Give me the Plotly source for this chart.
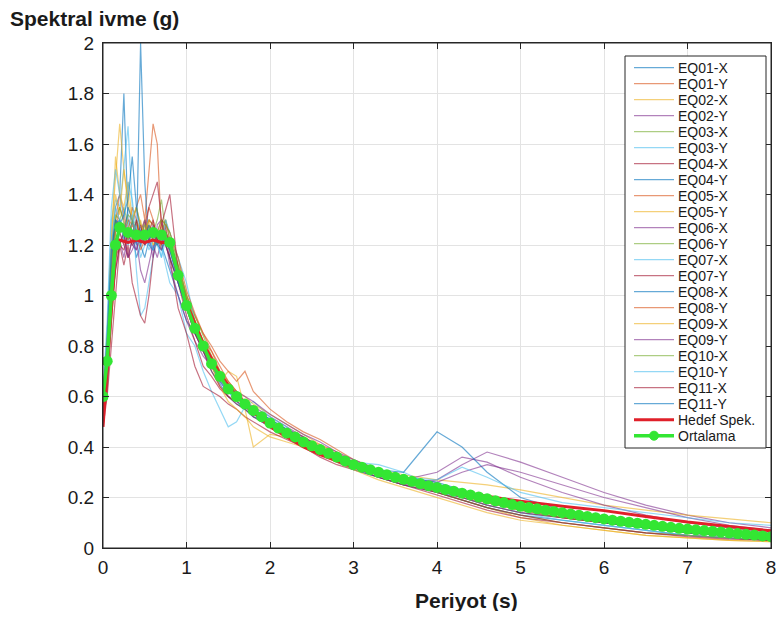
import plotly.graph_objects as go

# ---- data ----
periods = [0, 0.05, 0.1, 0.15, 0.2, 0.25, 0.3, 0.35, 0.4, 0.45, 0.5, 0.55, 0.6, 0.65, 0.7, 0.75, 0.8,
           0.9, 1.0, 1.1, 1.2, 1.3, 1.4, 1.5, 1.6, 1.7, 1.8, 2.0, 2.2, 2.4, 2.6, 2.8, 3.0, 3.3, 3.6,
           4.0, 4.3, 4.6, 5.0, 5.5, 6.0, 6.5, 7.0, 7.5, 8.0]

eq01_x = [0.58, 0.85, 1.20, 1.35, 1.40, 1.80, 1.30, 1.25, 1.15, 1.20, 1.30, 1.22, 1.18, 1.25, 1.20, 1.15, 1.10, 1.00, 0.90, 0.85, 0.80, 0.72, 0.66, 0.62, 0.58, 0.55, 0.52, 0.50, 0.46, 0.42, 0.38, 0.35, 0.33, 0.30, 0.27, 0.22, 0.20, 0.17, 0.14, 0.12, 0.10, 0.08, 0.06, 0.05, 0.04]
eq01_y = [0.60, 0.80, 1.10, 1.30, 1.25, 1.20, 1.30, 1.28, 1.35, 1.40, 1.30, 1.50, 1.68, 1.60, 1.25, 1.30, 1.22, 1.10, 1.00, 0.92, 0.85, 0.78, 0.70, 0.66, 0.62, 0.58, 0.55, 0.50, 0.47, 0.44, 0.40, 0.36, 0.33, 0.30, 0.28, 0.24, 0.21, 0.18, 0.15, 0.12, 0.10, 0.08, 0.06, 0.05, 0.04]
eq02_x = [0.55, 0.80, 1.25, 1.45, 1.68, 1.50, 1.35, 1.30, 1.28, 1.25, 1.30, 1.25, 1.20, 1.22, 1.28, 1.25, 1.20, 1.12, 1.00, 0.90, 0.80, 0.72, 0.66, 0.70, 0.68, 0.55, 0.40, 0.45, 0.44, 0.40, 0.37, 0.35, 0.33, 0.29, 0.26, 0.22, 0.19, 0.16, 0.12, 0.09, 0.07, 0.05, 0.04, 0.03, 0.025]
eq02_y = [0.55, 0.70, 0.95, 1.10, 1.20, 1.25, 1.15, 1.18, 1.22, 1.10, 1.05, 1.12, 1.20, 1.15, 1.22, 1.20, 1.15, 1.05, 0.95, 0.85, 0.78, 0.72, 0.66, 0.62, 0.60, 0.58, 0.56, 0.52, 0.48, 0.44, 0.40, 0.36, 0.32, 0.28, 0.25, 0.27, 0.33, 0.38, 0.34, 0.28, 0.22, 0.17, 0.13, 0.10, 0.08]
eq03_x = [0.62, 0.78, 1.05, 1.25, 1.30, 1.35, 1.28, 1.22, 1.30, 1.25, 1.20, 1.28, 1.25, 1.30, 1.38, 1.25, 1.22, 1.15, 0.98, 0.88, 0.80, 0.75, 0.68, 0.63, 0.60, 0.56, 0.53, 0.49, 0.45, 0.42, 0.39, 0.35, 0.32, 0.29, 0.26, 0.23, 0.21, 0.19, 0.16, 0.13, 0.11, 0.09, 0.07, 0.06, 0.05]
eq03_y = [0.60, 0.85, 1.30, 1.38, 1.35, 1.50, 1.67, 1.35, 1.10, 0.92, 0.95, 1.05, 1.15, 1.22, 1.20, 1.12, 1.05, 1.00, 0.85, 0.80, 0.70, 0.62, 0.55, 0.48, 0.50, 0.56, 0.58, 0.52, 0.48, 0.42, 0.38, 0.36, 0.33, 0.30, 0.27, 0.24, 0.22, 0.19, 0.16, 0.13, 0.11, 0.09, 0.07, 0.06, 0.05]
eq04_x = [0.48, 0.60, 0.80, 1.00, 1.20, 1.12, 1.20, 1.05, 0.98, 0.92, 0.89, 1.00, 1.15, 1.25, 1.20, 1.28, 1.15, 0.95, 0.85, 0.72, 0.64, 0.62, 0.60, 0.57, 0.55, 0.52, 0.50, 0.46, 0.43, 0.40, 0.36, 0.33, 0.31, 0.28, 0.25, 0.21, 0.18, 0.15, 0.12, 0.10, 0.08, 0.06, 0.05, 0.04, 0.03]
eq04_y = [0.58, 0.80, 1.15, 1.30, 1.25, 1.28, 1.20, 1.30, 1.20, 2.00, 1.45, 1.20, 1.18, 1.22, 1.25, 1.20, 1.15, 1.05, 0.95, 0.85, 0.78, 0.70, 0.65, 0.60, 0.57, 0.55, 0.52, 0.48, 0.45, 0.41, 0.38, 0.34, 0.31, 0.28, 0.25, 0.22, 0.19, 0.16, 0.13, 0.11, 0.09, 0.07, 0.05, 0.04, 0.03]
eq05_x = [0.60, 0.82, 1.15, 1.30, 1.40, 1.32, 1.25, 1.35, 1.30, 1.22, 1.28, 1.35, 1.30, 1.22, 1.20, 1.25, 1.22, 1.10, 0.98, 0.90, 0.82, 0.78, 0.72, 0.66, 0.62, 0.58, 0.55, 0.50, 0.46, 0.43, 0.41, 0.38, 0.34, 0.30, 0.27, 0.23, 0.20, 0.18, 0.15, 0.13, 0.10, 0.08, 0.07, 0.06, 0.05]
eq05_y = [0.62, 0.85, 1.20, 1.55, 1.40, 1.35, 1.45, 1.30, 1.25, 1.30, 1.22, 1.28, 1.20, 1.25, 1.18, 1.22, 1.18, 1.08, 0.95, 0.88, 0.82, 0.76, 0.70, 0.65, 0.62, 0.60, 0.57, 0.53, 0.49, 0.45, 0.41, 0.37, 0.34, 0.31, 0.29, 0.27, 0.26, 0.25, 0.23, 0.20, 0.17, 0.15, 0.13, 0.115, 0.10]
eq06_x = [0.56, 0.72, 1.00, 1.18, 1.22, 1.15, 1.25, 1.20, 1.18, 1.25, 1.30, 1.22, 1.15, 1.28, 1.30, 1.22, 1.12, 1.00, 0.90, 0.82, 0.76, 0.72, 0.66, 0.62, 0.60, 0.58, 0.55, 0.50, 0.47, 0.44, 0.40, 0.37, 0.34, 0.30, 0.27, 0.30, 0.36, 0.34, 0.28, 0.22, 0.17, 0.13, 0.10, 0.08, 0.06]
eq06_y = [0.60, 0.78, 1.10, 1.32, 1.30, 1.26, 1.32, 1.30, 1.35, 1.28, 1.25, 1.30, 1.28, 1.20, 1.25, 1.30, 1.22, 1.12, 1.00, 0.92, 0.84, 0.76, 0.70, 0.65, 0.61, 0.57, 0.54, 0.50, 0.46, 0.43, 0.39, 0.36, 0.33, 0.30, 0.27, 0.24, 0.21, 0.18, 0.15, 0.12, 0.10, 0.08, 0.06, 0.05, 0.04]
eq07_x = [0.62, 0.90, 1.35, 1.50, 1.40, 1.30, 1.45, 1.38, 1.25, 1.15, 1.20, 1.25, 1.18, 1.22, 1.15, 1.30, 1.25, 1.15, 1.05, 0.90, 0.80, 0.72, 0.66, 0.62, 0.58, 0.55, 0.52, 0.48, 0.45, 0.42, 0.39, 0.36, 0.34, 0.33, 0.30, 0.24, 0.20, 0.17, 0.14, 0.11, 0.09, 0.07, 0.05, 0.04, 0.03]
eq07_y = [0.50, 0.62, 0.90, 1.10, 1.20, 1.25, 1.15, 1.22, 1.30, 1.20, 1.25, 1.35, 1.40, 1.45, 1.30, 1.20, 1.15, 1.05, 0.92, 0.82, 0.72, 0.68, 0.63, 0.60, 0.58, 0.56, 0.53, 0.49, 0.45, 0.42, 0.38, 0.35, 0.32, 0.29, 0.26, 0.23, 0.20, 0.17, 0.14, 0.12, 0.10, 0.08, 0.06, 0.05, 0.04]
eq08_x = [0.58, 0.80, 1.15, 1.28, 1.30, 1.22, 1.35, 1.30, 1.25, 1.20, 1.15, 1.22, 1.25, 1.20, 1.18, 1.22, 1.18, 1.05, 0.95, 0.88, 0.80, 0.74, 0.68, 0.64, 0.60, 0.58, 0.55, 0.51, 0.47, 0.43, 0.40, 0.37, 0.34, 0.31, 0.30, 0.46, 0.40, 0.30, 0.20, 0.15, 0.12, 0.09, 0.07, 0.06, 0.05]
eq08_y = [0.58, 0.75, 1.05, 1.25, 1.35, 1.30, 1.22, 1.28, 1.25, 1.18, 1.22, 1.30, 1.28, 1.25, 1.30, 1.28, 1.25, 1.15, 1.02, 0.93, 0.85, 0.80, 0.74, 0.70, 0.66, 0.70, 0.62, 0.55, 0.50, 0.46, 0.43, 0.39, 0.35, 0.31, 0.28, 0.25, 0.22, 0.19, 0.16, 0.13, 0.11, 0.09, 0.07, 0.06, 0.05]
eq09_x = [0.60, 0.80, 1.20, 1.40, 1.32, 1.50, 1.38, 1.30, 1.35, 1.28, 1.25, 1.30, 1.22, 1.20, 1.25, 1.22, 1.20, 1.10, 0.98, 0.90, 0.80, 0.72, 0.64, 0.58, 0.55, 0.52, 0.48, 0.44, 0.42, 0.40, 0.37, 0.34, 0.31, 0.27, 0.24, 0.20, 0.17, 0.14, 0.11, 0.09, 0.07, 0.05, 0.04, 0.03, 0.025]
eq09_y = [0.55, 0.72, 1.00, 1.18, 1.25, 1.20, 1.15, 1.22, 1.18, 1.25, 1.20, 1.22, 1.28, 1.22, 1.18, 1.25, 1.20, 1.08, 0.96, 0.86, 0.78, 0.72, 0.68, 0.64, 0.62, 0.60, 0.58, 0.53, 0.49, 0.45, 0.42, 0.38, 0.35, 0.31, 0.28, 0.26, 0.30, 0.33, 0.30, 0.25, 0.20, 0.16, 0.12, 0.09, 0.07]
eq10_x = [0.60, 0.78, 1.10, 1.30, 1.35, 1.28, 1.22, 1.30, 1.25, 1.22, 1.28, 1.25, 1.22, 1.25, 1.30, 1.28, 1.25, 1.12, 1.00, 0.90, 0.82, 0.74, 0.68, 0.64, 0.60, 0.57, 0.54, 0.50, 0.46, 0.42, 0.38, 0.35, 0.32, 0.29, 0.26, 0.22, 0.19, 0.16, 0.13, 0.10, 0.08, 0.06, 0.05, 0.04, 0.03]
eq10_y = [0.60, 0.82, 1.20, 1.35, 1.30, 1.25, 1.28, 1.32, 1.22, 1.20, 1.25, 1.18, 1.22, 1.20, 1.15, 1.22, 1.20, 1.08, 0.96, 0.88, 0.80, 0.74, 0.68, 0.63, 0.60, 0.57, 0.54, 0.50, 0.46, 0.43, 0.40, 0.37, 0.34, 0.31, 0.28, 0.27, 0.32, 0.28, 0.22, 0.18, 0.16, 0.14, 0.12, 0.10, 0.09]
eq11_x = [0.50, 0.65, 0.95, 1.15, 1.20, 1.18, 1.25, 1.20, 1.22, 1.28, 1.20, 1.25, 1.30, 1.22, 1.28, 1.35, 1.40, 1.10, 0.95, 0.85, 0.78, 0.70, 0.64, 0.60, 0.57, 0.55, 0.52, 0.48, 0.44, 0.41, 0.38, 0.35, 0.32, 0.28, 0.25, 0.22, 0.19, 0.16, 0.13, 0.10, 0.08, 0.06, 0.045, 0.035, 0.03]
eq11_y = [0.58, 0.82, 1.18, 1.30, 1.28, 1.32, 1.38, 1.55, 1.35, 1.25, 1.22, 1.28, 1.22, 1.20, 1.25, 1.22, 1.18, 1.06, 0.95, 0.87, 0.80, 0.74, 0.68, 0.64, 0.61, 0.58, 0.55, 0.51, 0.47, 0.43, 0.40, 0.37, 0.34, 0.31, 0.28, 0.26, 0.23, 0.20, 0.16, 0.13, 0.10, 0.08, 0.06, 0.05, 0.04]

record_names = ["EQ01-X", "EQ01-Y", "EQ02-X", "EQ02-Y", "EQ03-X", "EQ03-Y", "EQ04-X", "EQ04-Y",
                "EQ05-X", "EQ05-Y", "EQ06-X", "EQ06-Y", "EQ07-X", "EQ07-Y", "EQ08-X", "EQ08-Y",
                "EQ09-X", "EQ09-Y", "EQ10-X", "EQ10-Y", "EQ11-X", "EQ11-Y"]
record_values = [eq01_x, eq01_y, eq02_x, eq02_y, eq03_x, eq03_y, eq04_x, eq04_y, eq05_x, eq05_y,
                 eq06_x, eq06_y, eq07_x, eq07_y, eq08_x, eq08_y, eq09_x, eq09_y, eq10_x, eq10_y,
                 eq11_x, eq11_y]

target_periods = [0, 0.05, 0.1, 0.16, 0.2, 0.3, 0.4, 0.5, 0.6, 0.7, 0.8, 0.9, 1.0, 1.2, 1.4, 1.6, 1.8,
                  2.0, 2.2, 2.4, 2.6, 2.8, 3.0, 3.5, 4.0, 4.5, 5.0, 5.5, 6.0, 6.5, 7.0, 7.5, 8.0]
target_values = [0.48, 0.72, 0.95, 1.22, 1.22, 1.21, 1.22, 1.21, 1.22, 1.21, 1.21, 1.08, 0.97, 0.81,
                 0.69, 0.60, 0.54, 0.48, 0.44, 0.40, 0.37, 0.345, 0.32, 0.28, 0.24, 0.21, 0.185,
                 0.165, 0.148, 0.125, 0.103, 0.085, 0.068]

mean_periods = [0, 0.05, 0.1, 0.15, 0.2, 0.3, 0.4, 0.5, 0.6, 0.7, 0.8, 0.9, 1.0, 1.1, 1.2, 1.3, 1.4,
                1.5, 1.6, 1.7, 1.8, 1.9, 2.0, 2.1, 2.2, 2.3, 2.4, 2.5, 2.6, 2.7, 2.8, 2.9, 3.0, 3.1,
                3.2, 3.3, 3.4, 3.5, 3.6, 3.7, 3.8, 3.9, 4.0, 4.1, 4.2, 4.3, 4.4, 4.5, 4.6, 4.7, 4.8,
                4.9, 5.0, 5.1, 5.2, 5.3, 5.4, 5.5, 5.6, 5.7, 5.8, 5.9, 6.0, 6.1, 6.2, 6.3, 6.4, 6.5,
                6.6, 6.7, 6.8, 6.9, 7.0, 7.1, 7.2, 7.3, 7.4, 7.5, 7.6, 7.7, 7.8, 7.9, 8.0]
mean_values = [0.60, 0.74, 1.00, 1.20, 1.27, 1.25, 1.24, 1.24, 1.25, 1.24, 1.21, 1.08, 0.96, 0.87,
               0.80, 0.73, 0.68, 0.63, 0.60, 0.57, 0.545, 0.52, 0.495, 0.475, 0.455, 0.44, 0.42,
               0.405, 0.39, 0.375, 0.36, 0.345, 0.33, 0.32, 0.31, 0.30, 0.29, 0.28, 0.272, 0.264,
               0.255, 0.247, 0.24, 0.232, 0.225, 0.217, 0.21, 0.202, 0.195, 0.187, 0.18, 0.172,
               0.165, 0.16, 0.155, 0.15, 0.145, 0.14, 0.135, 0.13, 0.125, 0.12, 0.115, 0.11, 0.106,
               0.102, 0.098, 0.094, 0.09, 0.086, 0.082, 0.078, 0.075, 0.072, 0.069, 0.066, 0.063,
               0.06, 0.057, 0.054, 0.051, 0.048, 0.045]

x_ticks = [0, 1, 2, 3, 4, 5, 6, 7, 8]
y_ticks = [0, 0.2, 0.4, 0.6, 0.8, 1, 1.2, 1.4, 1.6, 1.8, 2]

# ---- styling ----
palette = ["rgba(0,114,189,0.6)", "rgba(217,83,25,0.6)", "rgba(237,177,32,0.6)",
           "rgba(126,47,142,0.6)", "rgba(119,172,48,0.6)", "rgba(77,190,238,0.6)",
           "rgba(162,20,47,0.6)"]
RED = "#e0202a"
GREEN = "#33e633"
FONT = "Liberation Sans, Arial, sans-serif"
INK = "#1a1a1a"
FRAME = "#262626"

# the plotly div sits 8px in from the page corner (default body margin)
OFF = 8
FIG_W, FIG_H = 768, 603
# plot-area box in page pixels
PL, PR, PT, PB = 103, 771, 43, 548


def pxx(x):
    return (x - PL) / (PR - PL)


def pxy(y):
    return (PB - y) / (PB - PT)


fig = go.Figure()
for i, (name, vals) in enumerate(zip(record_names, record_values)):
    fig.add_trace(go.Scatter(x=periods, y=vals, mode="lines", name=name,
                             line=dict(color=palette[i % 7], width=1.2)))

fig.add_trace(go.Scatter(x=target_periods, y=target_values, mode="lines", name="Hedef Spek.",
                         line=dict(color=RED, width=3)))
fig.add_trace(go.Scatter(x=mean_periods, y=mean_values, mode="lines+markers", name="Ortalama",
                         line=dict(color=GREEN, width=3.5),
                         marker=dict(color=GREEN, size=11, symbol="circle")))

axis_common = dict(showline=True, linecolor=FRAME, linewidth=1, mirror="ticks",
                   ticks="inside", ticklen=6, tickcolor=FRAME, showgrid=True,
                   gridcolor="#e3e3e3", gridwidth=1, zeroline=False,
                   ticklabeloverflow="allow",
                   tickfont=dict(family=FONT, size=19, color=INK))

fig.update_xaxes(range=[0, 8], tickvals=x_ticks, ticklabelstandoff=2, **axis_common)
fig.update_yaxes(range=[0, 2], tickvals=y_ticks, ticklabelstandoff=4, **axis_common)

# ---- frame + legend drawn as box + samples + text ----
shapes = [dict(type="rect", xref="paper", yref="paper", layer="above",
               x0=0, x1=1, y0=0, y1=1, line=dict(color=FRAME, width=1),
               fillcolor="rgba(0,0,0,0)")]
annotations = []
leg_names = record_names + ["Hedef Spek.", "Ortalama"]
shapes.append(dict(type="rect", xref="paper", yref="paper", layer="above",
                   x0=pxx(625), x1=pxx(766), y0=pxy(448), y1=pxy(56),
                   line=dict(color=FRAME, width=1), fillcolor="white"))
for i, name in enumerate(leg_names):
    yc = 67.7 + 16.0 * i
    if i < len(record_names):
        col, w = palette[i % 7], 1.2
    elif name == "Hedef Spek.":
        col, w = RED, 3
    else:
        col, w = GREEN, 3.5
    shapes.append(dict(type="line", xref="paper", yref="paper", layer="above",
                       x0=pxx(634), x1=pxx(674), y0=pxy(yc), y1=pxy(yc),
                       line=dict(color=col, width=w)))
    if name == "Ortalama":
        shapes.append(dict(type="circle", xref="paper", yref="paper", layer="above",
                           x0=pxx(649.5), x1=pxx(658.5), y0=pxy(yc + 4.5), y1=pxy(yc - 4.5),
                           line=dict(color=GREEN, width=1), fillcolor=GREEN))
    annotations.append(dict(text=name, xref="paper", yref="paper", x=pxx(676), y=pxy(yc),
                            xanchor="left", yanchor="middle", showarrow=False,
                            font=dict(family=FONT, size=14, color=INK)))

annotations.append(dict(text="<b>Spektral ivme (g)</b>", xref="paper", yref="paper",
                        x=pxx(8), y=pxy(19), xanchor="left", yanchor="middle", showarrow=False,
                        font=dict(family=FONT, size=21, color=INK)))
annotations.append(dict(text="<b>Periyot (s)</b>", xref="paper", yref="paper",
                        x=pxx(466), y=pxy(600), xanchor="center", yanchor="middle",
                        showarrow=False, font=dict(family=FONT, size=21, color=INK)))

fig.update_layout(
    width=FIG_W, height=FIG_H,
    margin=dict(l=PL - OFF, r=(OFF + FIG_W) - PR, t=PT - OFF, b=(OFF + FIG_H) - PB,
                autoexpand=False),
    paper_bgcolor="white", plot_bgcolor="white",
    font=dict(family=FONT, color=INK),
    showlegend=False,
    shapes=shapes,
    annotations=annotations,
)

fig.write_html("out.html")
